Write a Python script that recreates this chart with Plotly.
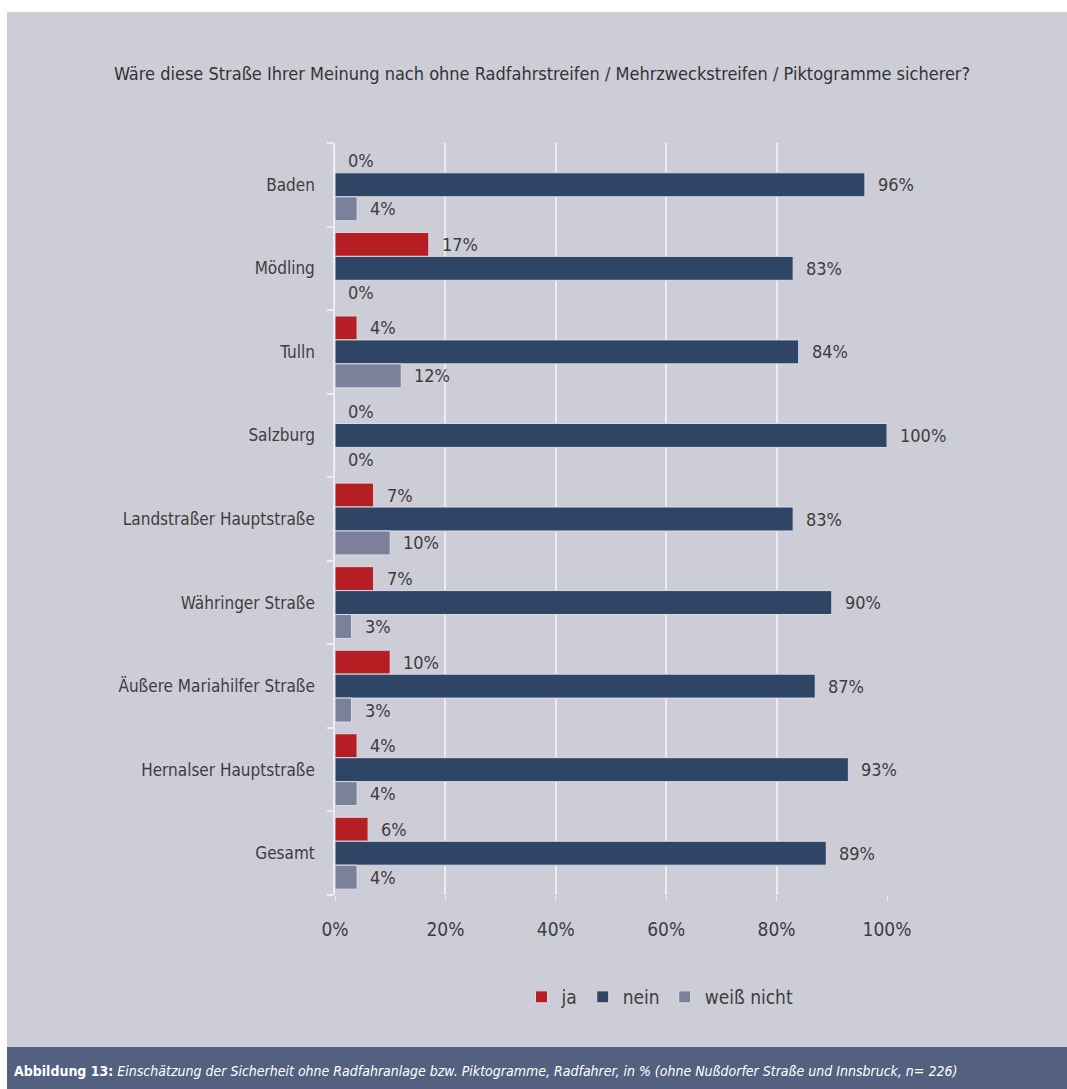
import plotly.graph_objects as go

# Survey results per street (percent of cyclists)
categories = [
    "Baden", "Mödling", "Tulln", "Salzburg", "Landstraßer Hauptstraße",
    "Währinger Straße", "Äußere Mariahilfer Straße", "Hernalser Hauptstraße", "Gesamt",
]
ja = [0, 17, 4, 0, 7, 7, 10, 4, 6]
nein = [96, 83, 84, 100, 83, 90, 87, 93, 89]
weiss_nicht = [4, 0, 12, 0, 10, 3, 3, 4, 4]

series_names = ["ja", "nein", "weiß nicht"]
series_values = [ja, nein, weiss_nicht]
series_colors = ["#b51f24", "#2f4566", "#7b819b"]

x_ticks = [0, 20, 40, 60, 80, 100]
x_tick_labels = ["0%", "20%", "40%", "60%", "80%", "100%"]

title_text = "Wäre diese Straße Ihrer Meinung nach ohne Radfahrstreifen / Mehrzweckstreifen / Piktogramme sicherer?"
caption_bold = "Abbildung 13:"
caption_rest = (" Einschätzung der Sicherheit ohne Radfahranlage bzw. Piktogramme, Radfahrer, in % "
                "(ohne Nußdorfer Straße und Innsbruck, n= 226)")

W, H = 1067, 1089
L, R, T, B = 335, 180, 143, 194
PW, PH = W - L - R, H - T - B

FONT = "DejaVu Sans Condensed, Liberation Sans Narrow, sans-serif"
TXT = "#3d3d3d"
PANEL = "#cdcdd7"


def px_x(px):
    return (px - L) / PW


def px_y(py):
    return 1 - (py - T) / PH


BARGAP = 0.14
n_series = len(series_names)
bar_w = (1 - BARGAP) / n_series
positions = list(range(len(categories)))

fig = go.Figure()
for k, (name, vals, col) in enumerate(zip(series_names, series_values, series_colors)):
    fig.add_trace(go.Bar(
        name=name, orientation="h", x=vals, y=positions,
        marker=dict(color=col, line=dict(color="#d9dbe6", width=1)),
    ))
    offset = (k - (n_series - 1) / 2) * bar_w
    for i, v in enumerate(vals):
        fig.add_annotation(
            x=v, y=i + offset, xref="x", yref="y", text=f"{v}%",
            showarrow=False, xanchor="left", yanchor="middle", xshift=11,
            font=dict(family=FONT, size=18, color=TXT),
        )

shapes = [
    # white margins around the grey panel
    dict(type="rect", xref="paper", yref="paper", x0=px_x(0), x1=px_x(7), y0=px_y(H), y1=px_y(0),
         fillcolor="white", line_width=0, layer="below"),
    dict(type="rect", xref="paper", yref="paper", x0=px_x(0), x1=px_x(W), y0=px_y(12), y1=px_y(0),
         fillcolor="white", line_width=0, layer="below"),
    # caption bar
    dict(type="rect", xref="paper", yref="paper", x0=px_x(7), x1=px_x(W), y0=px_y(H), y1=px_y(1047),
         fillcolor="#536080", line_width=0, layer="below"),
]

annotations_extra = [
    dict(text=title_text, xref="paper", yref="paper", x=px_x(542), y=px_y(73),
         xanchor="center", yanchor="middle", showarrow=False,
         font=dict(family=FONT, size=18, color="#333333")),
    dict(text=f"<b>{caption_bold}</b><i>{caption_rest}</i>", xref="paper", yref="paper",
         x=px_x(12), y=px_y(1071), xanchor="left", yanchor="middle", showarrow=False,
         font=dict(family=FONT, size=14, color="white")),
]
for a in annotations_extra:
    fig.add_annotation(**a)

fig.update_layout(
    width=W, height=H,
    margin=dict(l=L, r=R, t=T, b=B, pad=0),
    paper_bgcolor=PANEL, plot_bgcolor=PANEL,
    barmode="group", bargap=BARGAP, bargroupgap=0,
    font=dict(family=FONT, size=18, color=TXT),
    shapes=shapes,
    showlegend=True,
    legend=dict(orientation="h", x=px_x(660), y=px_y(997), xanchor="center", yanchor="middle",
                font=dict(family=FONT, size=19, color=TXT), bgcolor="rgba(0,0,0,0)",
                itemwidth=30, traceorder="normal"),
)

fig.update_xaxes(
    range=[0, 100], tickvals=x_ticks, ticktext=x_tick_labels,
    showgrid=True, gridcolor="#ececf2", gridwidth=1.5, zeroline=False,
    showline=False, ticks="outside", ticklen=5, tickcolor="#ececf2",
    ticklabelstandoff=12,
    tickfont=dict(family=FONT, size=19, color=TXT), fixedrange=True,
)
fig.update_yaxes(
    range=[len(categories) - 0.5, -0.5], tickvals=positions, ticktext=categories,
    showgrid=False, zeroline=False, showline=True, linecolor="#ececf2", linewidth=1.5,
    ticks="", ticklabelstandoff=15,
    minor=dict(tickvals=[i - 0.5 for i in range(len(categories) + 1)], ticks="outside",
               ticklen=6, tickcolor="#ececf2", tickwidth=1.5, showgrid=False),
    tickfont=dict(family=FONT, size=17, color=TXT), fixedrange=True,
)

fig.write_html("out.html")
